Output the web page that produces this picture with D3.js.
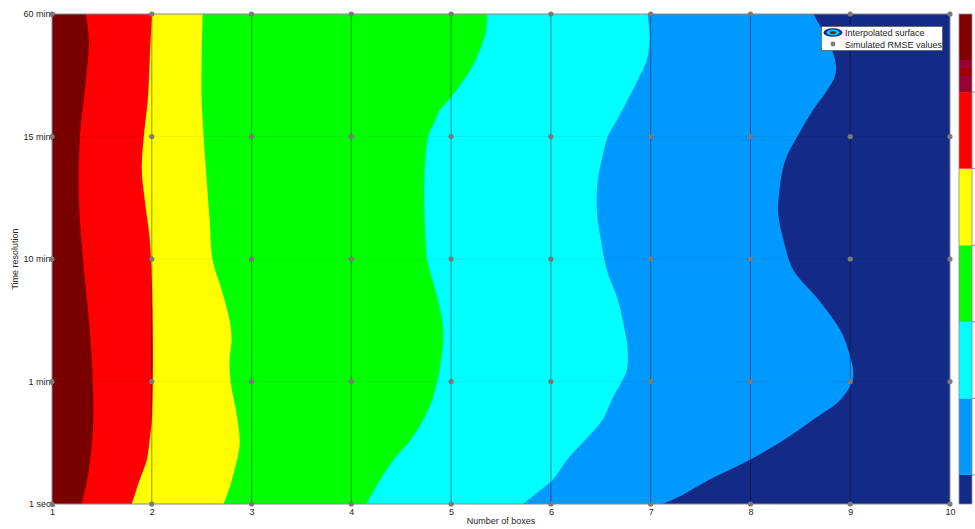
<!DOCTYPE html>
<html>
<head>
<meta charset="utf-8">
<script src="https://cdn.jsdelivr.net/npm/d3@7"></script>
<style>
  body { margin: 0; background: #fff; }
  svg { display: block; font-family: "Liberation Sans", Arial, sans-serif; }
</style>
</head>
<body>
<svg id="chart" width="975" height="529"></svg>
<script>
// simulation grid
var boxes = [1, 2, 3, 4, 5, 6, 7, 8, 9, 10];
var timeLabels = ["1 secs", "1 mins", "10 mins", "15 mins", "60 mins"];

// contour levels, lowest RMSE first
var levelColors = ["#132a87", "#0099ff", "#00ffff", "#00ff00", "#ffff00", "#ff0000", "#7a0000"];
var levelTicks = [1, 2, 3, 4, 5, 6];
var colorbarRange = [0.62, 7.02];
// shading in the top of the colorbar
var colorbarShades = [[6.0, 6.22, "#990033"], [6.22, 6.31, "#a30000"], [6.31, 6.42, "#990033"], [6.42, 7.02, "#840000"]];

// contour lines of the interpolated surface : [time index, number of boxes], top to bottom
var contour6 = [[4, 1.34], [3.79, 1.37], [3.46, 1.34], [3, 1.28], [2.48, 1.27], [2, 1.31], [1.5, 1.37], [1, 1.41], [0.6, 1.41], [0.28, 1.37], [0, 1.30]];
var contour5 = [[4, 2.00], [3.62, 1.98], [3.3, 1.96], [3, 1.92], [2.73, 1.90], [2.48, 1.93], [2.16, 1.98], [1.83, 2.00], [1.42, 2.01], [1, 2.01], [0.69, 2.00], [0.53, 1.98], [0.36, 1.95], [0.2, 1.88], [0, 1.80]];
var contour4 = [[4, 2.51], [3.62, 2.50], [3.3, 2.50], [3, 2.52], [2.65, 2.55], [2.32, 2.58], [1.99, 2.61], [1.75, 2.70], [1.5, 2.78], [1.34, 2.80], [1.18, 2.78], [1, 2.79], [0.69, 2.86], [0.48, 2.88], [0.28, 2.83], [0.11, 2.77], [0, 2.72]];
var contour3 = [[4, 5.36], [3.87, 5.35], [3.71, 5.29], [3.54, 5.19], [3.42, 5.09], [3.3, 4.98], [3.22, 4.89], [3.13, 4.84], [3, 4.77], [2.81, 4.74], [2.48, 4.73], [2.21, 4.74], [1.99, 4.76], [1.75, 4.84], [1.5, 4.91], [1.34, 4.92], [1.18, 4.90], [1, 4.86], [0.85, 4.81], [0.69, 4.72], [0.52, 4.59], [0.36, 4.42], [0.2, 4.29], [0, 4.15]];
var contour2 = [[4, 6.97], [3.79, 6.99], [3.62, 6.96], [3.46, 6.87], [3.3, 6.77], [3.13, 6.66], [3, 6.57], [2.81, 6.51], [2.64, 6.47], [2.4, 6.46], [2.16, 6.50], [1.91, 6.56], [1.67, 6.67], [1.42, 6.74], [1.26, 6.77], [1.09, 6.76], [1, 6.71], [0.85, 6.61], [0.69, 6.52], [0.52, 6.34], [0.36, 6.16], [0.2, 6.02], [0.11, 5.89], [0, 5.72]];
var contour1 = [[4, 8.63], [3.79, 8.77], [3.62, 8.85], [3.5, 8.85], [3.38, 8.77], [3.22, 8.63], [3, 8.47], [2.81, 8.35], [2.56, 8.29], [2.36, 8.28], [2.16, 8.33], [1.91, 8.43], [1.67, 8.68], [1.42, 8.90], [1.26, 8.98], [1.09, 9.03], [1, 9.02], [0.85, 8.90], [0.69, 8.63], [0.52, 8.33], [0.36, 7.99], [0.2, 7.59], [0.07, 7.31], [0, 7.12]];

var svg = d3.select("#chart");
// (window.top is taken, so plot edges get their own names)
var pLeft = 52, pRight = 950, pTop = 14, pBottom = 504;

var x = d3.scaleLinear().domain([1, 10]).range([pLeft, pRight]);
var y = d3.scaleLinear().domain([0, 4]).range([pBottom, pTop]);
var textColor = "#262626";

// y axis first, the surface covers the end of the labels
var yAxis = d3.axisLeft(y)
  .tickValues(d3.range(timeLabels.length))
  .tickFormat(function (d) { return timeLabels[d]; })
  .tickSize(0).tickPadding(-3);
var gy = svg.append("g").attr("transform", "translate(" + pLeft + ",0)").call(yAxis);
gy.select(".domain").remove();
gy.selectAll("text").attr("font-size", 9).attr("fill", textColor).attr("font-family", "Liberation Sans, Arial, sans-serif");

svg.append("clipPath").attr("id", "plotclip")
  .append("rect").attr("x", pLeft).attr("y", pTop).attr("width", pRight - pLeft).attr("height", pBottom - pTop);

var plot = svg.append("g").attr("clip-path", "url(#plotclip)");

// highest level fills everything, then each contour paints to the right
plot.append("rect")
  .attr("x", pLeft).attr("y", pTop).attr("width", pRight - pLeft).attr("height", pBottom - pTop)
  .attr("fill", levelColors[6]);

var contours = [contour6, contour5, contour4, contour3, contour2, contour1];
var area = d3.area()
  .y(function (d) { return y(d[0]); })
  .x0(function (d) { return x(d[1]); })
  .x1(x(10) + 2)
  .curve(d3.curveCatmullRom.alpha(0.5));

contours.forEach(function (c, i) {
  plot.append("path")
    .datum(c)
    .attr("d", area)
    .attr("fill", levelColors[5 - i]);
});

// faint rows and the stems of the simulated points
plot.selectAll("line.row")
  .data(d3.range(timeLabels.length))
  .enter().append("line")
  .attr("x1", pLeft).attr("x2", pRight)
  .attr("y1", function (d) { return y(d); }).attr("y2", function (d) { return y(d); })
  .attr("stroke", "rgba(0,0,0,0.06)").attr("stroke-width", 1);

plot.selectAll("line.stem")
  .data(boxes.slice(1))
  .enter().append("line")
  .attr("x1", function (d) { return x(d); }).attr("x2", function (d) { return x(d); })
  .attr("y1", pTop).attr("y2", pBottom)
  .attr("stroke", "rgba(0,0,0,0.38)").attr("stroke-width", 1.1);

// box around the axes
svg.append("rect")
  .attr("x", pLeft).attr("y", pTop).attr("width", pRight - pLeft).attr("height", pBottom - pTop)
  .attr("fill", "none").attr("stroke", "#8c8c8c").attr("stroke-width", 1);

// simulated RMSE points
var points = [];
boxes.forEach(function (b) {
  d3.range(timeLabels.length).forEach(function (t) { points.push([b, t]); });
});
svg.selectAll("circle.pt")
  .data(points)
  .enter().append("circle")
  .attr("cx", function (d) { return x(d[0]); })
  .attr("cy", function (d) { return y(d[1]); })
  .attr("r", 2.6)
  .attr("fill", "#7a7a7a");

// x axis
var xAxis = d3.axisBottom(x).tickValues(boxes).tickFormat(d3.format("d")).tickSize(0).tickPadding(5);
var gx = svg.append("g").attr("transform", "translate(0," + pBottom + ")").call(xAxis);
gx.select(".domain").remove();
gx.selectAll("text").attr("font-size", 9).attr("fill", textColor).attr("font-family", "Liberation Sans, Arial, sans-serif");

svg.append("text")
  .attr("x", (pLeft + pRight) / 2).attr("y", 524)
  .attr("text-anchor", "middle").attr("font-size", 9).attr("fill", textColor)
  .text("Number of boxes");

svg.append("text")
  .attr("transform", "translate(18," + (pTop + pBottom) / 2 + ") rotate(-90)")
  .attr("text-anchor", "middle").attr("font-size", 9).attr("fill", textColor)
  .text("Time resolution");

// legend
var lg = svg.append("g").attr("transform", "translate(821,26)");
lg.append("rect").attr("x", 0.5).attr("y", 0.5).attr("width", 121).attr("height", 24)
  .attr("fill", "#fff").attr("stroke", "#555").attr("stroke-width", 0.7);
lg.append("ellipse").attr("cx", 12).attr("cy", 6.5).attr("rx", 9.5).attr("ry", 4.3).attr("fill", levelColors[0]);
lg.append("ellipse").attr("cx", 12).attr("cy", 6.5).attr("rx", 6.5).attr("ry", 2.9).attr("fill", "#00ccff");
lg.append("ellipse").attr("cx", 12).attr("cy", 6.5).attr("rx", 3).attr("ry", 1.5).attr("fill", "#b00000");
lg.append("text").attr("x", 24).attr("y", 10).attr("font-size", 9).attr("fill", textColor).text("Interpolated surface");
lg.append("circle").attr("cx", 12).attr("cy", 18).attr("r", 2.4).attr("fill", "#7a7a7a");
lg.append("text").attr("x", 24).attr("y", 21.5).attr("font-size", 9).attr("fill", textColor).text("Simulated RMSE values");

// colorbar
var cbX = 959, cbW = 13;
var cy = d3.scaleLinear().domain(colorbarRange).range([pBottom, pTop]);
var bands = levelColors.map(function (c, i) {
  return [Math.max(i, colorbarRange[0]), Math.min(i + 1, colorbarRange[1]), c];
});
svg.selectAll("rect.band")
  .data(bands.concat(colorbarShades))
  .enter().append("rect")
  .attr("x", cbX).attr("width", cbW)
  .attr("y", function (d) { return cy(d[1]); })
  .attr("height", function (d) { return cy(d[0]) - cy(d[1]); })
  .attr("fill", function (d) { return d[2]; });
svg.append("rect")
  .attr("x", cbX).attr("y", pTop).attr("width", cbW).attr("height", pBottom - pTop)
  .attr("fill", "none").attr("stroke", "#8c8c8c").attr("stroke-width", 0.8);
svg.selectAll("line.cbtick")
  .data(levelTicks)
  .enter().append("line")
  .attr("x1", cbX + cbW).attr("x2", cbX + cbW + 3)
  .attr("y1", function (d) { return cy(d); }).attr("y2", function (d) { return cy(d); })
  .attr("stroke", "#8c8c8c").attr("stroke-width", 1);
</script>
</body>
</html>
